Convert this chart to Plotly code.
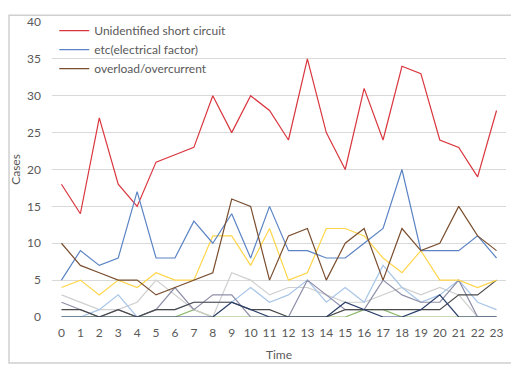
import plotly.graph_objects as go

hours = list(range(24))
tick_labels = [str(h) for h in hours]

unidentified_short = [18, 14, 27, 18, 15, 21, 22, 23, 30, 25, 30, 28, 24, 35, 25, 20, 31, 24, 34, 33, 24, 23, 19, 28]
etc_electrical = [5, 9, 7, 8, 17, 8, 8, 13, 10, 14, 8, 15, 9, 9, 8, 8, 10, 12, 20, 9, 9, 9, 11, 8]
overload = [10, 7, 6, 5, 5, 3, 4, 5, 6, 16, 15, 5, 11, 12, 5, 10, 12, 5, 12, 9, 10, 15, 11, 9]
series_yellow = [4, 5, 3, 5, 4, 6, 5, 5, 11, 11, 7, 12, 5, 6, 12, 12, 11, 8, 6, 9, 5, 5, 4, 5]
series_lightgray = [3, 2, 1, 1, 2, 5, 3, 1, 0, 6, 5, 3, 4, 4, 3, 2, 2, 3, 4, 3, 4, 3, 0, 0]
series_lightblue = [0, 0, 1, 3, 0, 1, 1, 2, 2, 2, 4, 2, 3, 5, 2, 4, 2, 7, 4, 2, 3, 5, 2, 1]
series_graypurple = [2, 1, 0, 1, 0, 1, 4, 1, 3, 3, 0, 0, 0, 5, 3, 1, 1, 5, 3, 2, 2, 5, 0, 0]
series_navy = [0, 0, 0, 0, 0, 0, 0, 0, 0, 2, 1, 0, 0, 0, 0, 2, 1, 0, 0, 1, 3, 0, 0, 0]
series_darkgray = [1, 1, 0, 1, 0, 1, 1, 2, 2, 2, 1, 1, 0, 0, 0, 1, 1, 1, 1, 1, 1, 3, 3, 5]
series_green = [0, 0, 0, 0, 0, 0, 0, 1, 0, 0, 0, 0, 0, 0, 0, 0, 1, 1, 0, 0, 0, 0, 0, 0]

fig = go.Figure()

bg = [
    (series_green, "#8DB86A"),
    (series_lightgray, "#CFCFCF"),
    (series_lightblue, "#A9C6E8"),
    (series_graypurple, "#8E8FA8"),
    (series_darkgray, "#4A4A4A"),
    (series_navy, "#2B3F6B"),
    (series_yellow, "#FFD54A"),
]
for vals, col in bg:
    fig.add_trace(go.Scatter(x=hours, y=vals, mode="lines", showlegend=False,
                             line=dict(color=col, width=1.2), hoverinfo="skip"))

named = [
    ("Unidentified short circuit", unidentified_short, "#D9363E"),
    ("etc(electrical factor)", etc_electrical, "#5B84C4"),
    ("overload/overcurrent", overload, "#7A4E2E"),
]
for name, vals, col in named:
    fig.add_trace(go.Scatter(x=hours, y=vals, mode="lines", name=name,
                             line=dict(color=col, width=1.2)))

# the page body adds an 8px margin, so the figure is sized/offset to compensate
fig.update_layout(
    width=511, height=360,
    margin=dict(l=44, r=13, t=8, b=51),
    paper_bgcolor="white", plot_bgcolor="white",
    font=dict(family="Lato, Open Sans, sans-serif", size=12, color="#595959"),
    xaxis=dict(
        range=[-0.5, 23.5], tickmode="array", tickvals=hours, ticktext=tick_labels,
        showgrid=False, zeroline=False, showline=False, ticks="",
        automargin=False, ticklabelstandoff=7,
        tickfont=dict(size=12, color="#595959"),
        title=dict(text="Time", font=dict(size=12, color="#595959"), standoff=11),
    ),
    yaxis=dict(
        range=[0, 40], dtick=5, showgrid=True, gridcolor="#D9D9D9", gridwidth=1,
        zeroline=False, showline=False, ticks="", automargin=False,
        ticklabelstandoff=10,
        tickfont=dict(size=12, color="#595959"),
        title=dict(text="Cases", font=dict(size=12, color="#595959"), standoff=6),
    ),
    legend=dict(x=0.005, y=1.02, xanchor="left", yanchor="top",
                bgcolor="rgba(0,0,0,0)", font=dict(size=12, color="#595959"),
                tracegroupgap=0, itemwidth=30),
    shapes=[dict(type="rect", xref="paper", yref="paper",
                 x0=-0.0947, x1=1.0176, y0=-0.156, y1=1.0233,
                 line=dict(color="#D0D0D0", width=1.5), fillcolor="rgba(0,0,0,0)",
                 layer="below")],
    showlegend=True,
)

fig.write_html("out.html")
